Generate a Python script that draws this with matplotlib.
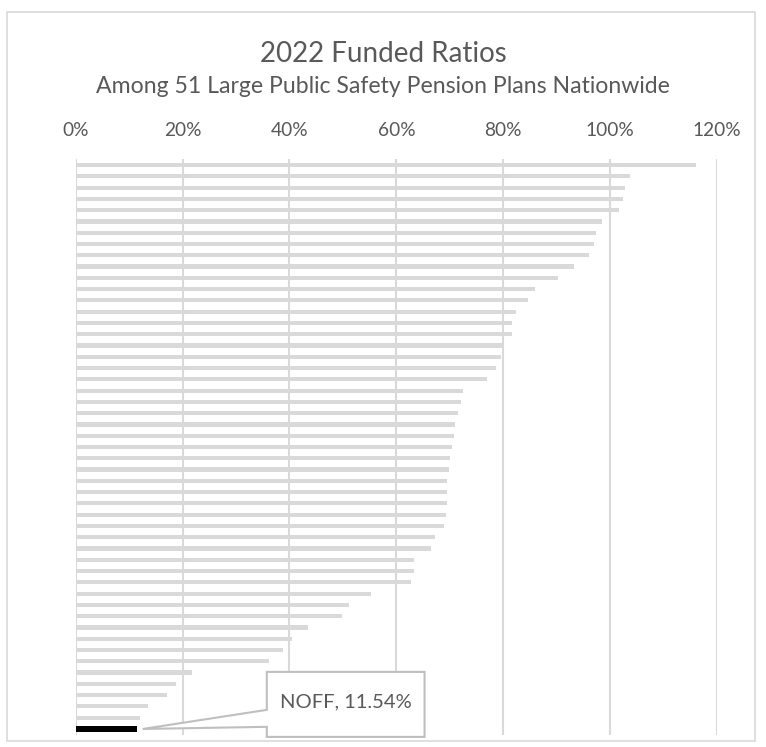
import numpy as np
import matplotlib
matplotlib.use("Agg")
import matplotlib.pyplot as plt
from matplotlib.patches import Polygon, Rectangle

plt.rcParams['font.family'] = ['Lato', 'DejaVu Sans']

# funded ratios (%), top to bottom
ratios = [116.0, 103.8, 102.7, 102.4, 101.7, 98.5, 97.3, 97.0, 96.0, 93.3,
          90.3, 86.0, 84.7, 82.4, 81.7, 81.7, 80.0, 79.5, 78.7, 76.9,
          72.4, 72.1, 71.5, 71.0, 70.8, 70.4, 70.1, 69.9, 69.4, 69.4,
          69.4, 69.2, 68.9, 67.3, 66.4, 63.3, 63.3, 62.8, 55.3, 51.1,
          49.8, 43.4, 40.4, 38.7, 36.2, 21.7, 18.8, 17.0, 13.5, 12.1, 11.54]
highlight = "NOFF"
xticks = [0, 20, 40, 60, 80, 100, 120]

W, H = 766, 747
fig = plt.figure(figsize=(W / 100, H / 100), dpi=100)

# axes placed in pixel terms
left, right, top, bottom = 75.7, 717.0, 159.4, 734.6
ax = fig.add_axes([left / W, 1 - bottom / H, (right - left) / W, (bottom - top) / H])

n = len(ratios)
ypos = np.arange(n)
colors = ['#d9d9d9'] * (n - 1) + ['#000000']
heights = [0.37] * (n - 1) + [0.55]
ax.barh(ypos, ratios, height=heights, color=colors, zorder=2)

ax.set_xlim(0, 120)
ax.set_ylim(n - 0.5, -0.5)
ax.set_xticks(xticks)
ax.set_xticklabels([f"{t}%" for t in xticks])
ax.xaxis.tick_top()
ax.tick_params(axis='x', length=0, pad=14.8, labelsize=13.8, labelcolor='#595959')
ax.set_yticks([])
ax.grid(axis='x', color='#d9d9d9', lw=1.5, zorder=0)
for s in ax.spines.values():
    s.set_visible(False)

# titles
fig.text(0.5, 1 - 62 / H, "2022 Funded Ratios", ha='center', va='baseline',
         fontsize=20, color='#595959')
fig.text(0.5, 1 - 93 / H, "Among 51 Large Public Safety Pension Plans Nationwide",
         ha='center', va='baseline', fontsize=16.6, color='#595959')

# callout for the highlighted plan
val = ratios[-1]
tip = ax.transAxes.inverted().transform(ax.transData.transform((val + 1.0, n - 1)))
bx0, bx1 = 0.298, 0.544
by0, by1 = -0.004, 0.109
bl_lo, bl_hi = 0.0135, 0.043
shape = [(bx0, by1), (bx1, by1), (bx1, by0), (bx0, by0), (bx0, bl_lo),
         (tip[0], tip[1]), (bx0, bl_hi)]
ax.add_patch(Polygon(shape, closed=True, transform=ax.transAxes, clip_on=False,
                     facecolor='white', edgecolor='#bfbfbf', lw=1.5, zorder=5))
ax.text((bx0 + bx1) / 2, (by0 + by1) / 2 + 0.004, f"{highlight}, {val:.2f}%",
        transform=ax.transAxes, ha='center', va='center', fontsize=14.5,
        color='#595959', zorder=6)

# chart border
fig.patches.append(Rectangle((7 / W, 1 - 741 / H), (755 - 7) / W, (741 - 12) / H,
                             transform=fig.transFigure, fill=False,
                             edgecolor='#d9d9d9', lw=1.2))

fig.savefig("out.png", dpi=100)
